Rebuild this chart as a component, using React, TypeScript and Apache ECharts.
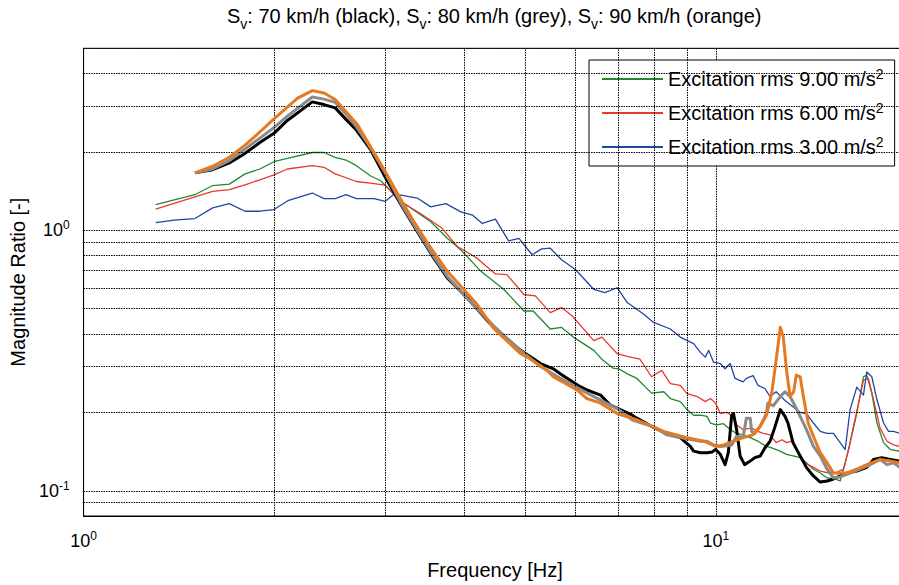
import React, { useEffect, useRef } from 'react';
import * as echarts from 'echarts';

const FONT = '"Liberation Sans", Arial, Helvetica, sans-serif';

// Axis ranges and grid positions
const xRange = [1, 20];
const yRange = [0.08, 5];
const xMinorGrid = [2, 3, 4, 5, 6, 7, 8, 9];
const yMinorGrid = [0.09, 0.2, 0.3, 0.4, 0.5, 0.6, 0.7, 0.8, 0.9, 2, 3, 4];

const titleText = 'S{sub|v}: 70 km/h (black), S{sub|v}: 80 km/h (grey), S{sub|v}: 90 km/h (orange)';
const legendNames = ['Excitation rms 9.00 m/s²', 'Excitation rms 6.00 m/s²', 'Excitation rms 3.00 m/s²'];

// [frequency Hz, magnitude ratio]
const green: [number, number][] = [
  [1.3, 1.256], [1.5, 1.37], [1.6, 1.486], [1.7, 1.505], [1.8, 1.647], [1.9, 1.72], [2.0, 1.834], [2.1, 1.89],
  [2.3, 1.99], [2.4, 1.99], [2.5, 1.906], [2.6, 1.862], [2.7, 1.771], [2.84, 1.62], [2.95, 1.55], [3.17, 1.3],
  [3.33, 1.195], [3.54, 1.079], [3.76, 0.932], [3.95, 0.841], [4.25, 0.696], [4.62, 0.593], [4.97, 0.49],
  [5.14, 0.49], [5.47, 0.418], [5.7, 0.424], [5.95, 0.389], [6.41, 0.346], [6.6, 0.32], [6.87, 0.296],
  [7.02, 0.294], [7.24, 0.281], [7.5, 0.27], [7.91, 0.237], [8.27, 0.24], [8.47, 0.226], [8.78, 0.22],
  [9.0, 0.205], [9.22, 0.195], [9.45, 0.195], [9.68, 0.193], [9.8, 0.182], [10.02, 0.179], [10.28, 0.181],
  [10.53, 0.172], [10.78, 0.166], [11.04, 0.164], [11.33, 0.16], [11.65, 0.155], [12.02, 0.148], [12.25, 0.146],
  [12.64, 0.142], [12.93, 0.138], [13.24, 0.136], [13.59, 0.134], [13.9, 0.128], [14.26, 0.121], [14.62, 0.117],
  [14.99, 0.112], [15.43, 0.111], [15.72, 0.109], [16.01, 0.128], [16.3, 0.153], [16.7, 0.198], [17.11, 0.274],
  [17.32, 0.278], [17.64, 0.237], [17.97, 0.182], [18.41, 0.153], [18.87, 0.144], [19.53, 0.142],
];

const red: [number, number][] = [
  [1.3, 1.205], [1.5, 1.343], [1.6, 1.41], [1.7, 1.432], [1.8, 1.496], [1.9, 1.563], [2.0, 1.633], [2.1, 1.72],
  [2.3, 1.771], [2.4, 1.746], [2.5, 1.647], [2.7, 1.54], [2.88, 1.51], [3.0, 1.49], [3.17, 1.29], [3.41, 1.16],
  [3.69, 1.018], [3.9, 0.867], [4.19, 0.782], [4.48, 0.68], [4.67, 0.676], [4.97, 0.567], [5.18, 0.56],
  [5.47, 0.483], [5.7, 0.505], [5.92, 0.47], [6.41, 0.377], [6.6, 0.389], [6.98, 0.336], [7.24, 0.328],
  [7.58, 0.32], [7.91, 0.274], [8.21, 0.29], [8.47, 0.258], [8.78, 0.254], [9.0, 0.236], [9.34, 0.23],
  [9.62, 0.22], [9.8, 0.226], [9.99, 0.217], [10.16, 0.198], [10.4, 0.2], [10.66, 0.193], [10.78, 0.179],
  [11.04, 0.172], [11.39, 0.174], [11.65, 0.169], [11.88, 0.166], [12.18, 0.164], [12.45, 0.153], [12.72, 0.157],
  [12.93, 0.153], [13.17, 0.155], [13.59, 0.136], [13.82, 0.128], [14.26, 0.123], [14.62, 0.119], [15.08, 0.117],
  [15.43, 0.117], [15.92, 0.121], [16.21, 0.144], [16.5, 0.177], [16.9, 0.23], [17.11, 0.266], [17.42, 0.27],
  [17.75, 0.224], [18.18, 0.174], [18.64, 0.155], [19.1, 0.15], [19.53, 0.148],
];

const blue: [number, number][] = [
  [1.3, 1.07], [1.39, 1.094], [1.5, 1.11], [1.6, 1.22], [1.7, 1.266], [1.8, 1.184], [1.9, 1.184], [2.0, 1.202],
  [2.11, 1.304], [2.3, 1.391], [2.4, 1.323], [2.5, 1.323], [2.6, 1.37], [2.7, 1.323], [2.88, 1.323], [3.0, 1.293],
  [3.1, 1.38], [3.37, 1.33], [3.54, 1.23], [3.74, 1.266], [3.95, 1.178], [4.12, 1.144], [4.27, 1.063],
  [4.48, 1.104], [4.7, 0.911], [4.88, 0.932], [5.12, 0.806], [5.3, 0.849], [5.47, 0.854], [5.7, 0.771],
  [6.0, 0.706], [6.41, 0.593], [6.67, 0.576], [6.98, 0.602], [7.24, 0.528], [7.68, 0.477], [7.97, 0.443],
  [8.47, 0.418], [8.78, 0.389], [8.89, 0.383], [9.22, 0.367], [9.45, 0.34], [9.62, 0.326], [9.74, 0.346],
  [9.91, 0.312], [10.16, 0.308], [10.34, 0.294], [10.53, 0.308], [10.72, 0.27], [11.04, 0.262], [11.17, 0.27],
  [11.45, 0.277], [11.65, 0.254], [11.95, 0.247], [12.18, 0.23], [12.45, 0.24], [12.86, 0.222], [13.24, 0.21],
  [13.59, 0.2], [13.9, 0.198], [14.26, 0.182], [14.62, 0.169], [14.99, 0.166], [15.34, 0.166], [15.72, 0.153],
  [16.01, 0.144], [16.3, 0.205], [16.7, 0.25], [17.11, 0.233], [17.32, 0.286], [17.64, 0.274], [17.97, 0.224],
  [18.41, 0.182], [18.75, 0.169], [19.1, 0.169], [19.53, 0.166],
];

const black: [number, number][] = [
  [1.5, 1.662], [1.6, 1.71], [1.7, 1.814], [1.8, 1.974], [1.9, 2.175], [2.0, 2.358], [2.1, 2.642], [2.3, 3.113],
  [2.4, 3.04], [2.5, 2.953], [2.6, 2.667], [2.7, 2.428], [2.84, 2.05], [3.0, 1.6], [3.17, 1.266], [3.37, 0.989],
  [3.58, 0.782], [3.76, 0.657], [4.04, 0.551], [4.45, 0.424], [4.91, 0.346], [5.28, 0.308], [5.53, 0.294],
  [5.68, 0.281], [6.1, 0.251], [6.25, 0.244], [6.57, 0.233], [6.81, 0.213], [7.32, 0.197], [7.5, 0.19],
  [7.97, 0.175], [8.35, 0.166], [8.78, 0.16], [9.11, 0.148], [9.22, 0.142], [9.45, 0.14], [9.68, 0.14],
  [9.87, 0.141], [9.99, 0.144], [10.16, 0.138], [10.34, 0.126], [10.46, 0.14], [10.59, 0.195], [10.66, 0.198],
  [10.78, 0.172], [10.92, 0.136], [11.1, 0.126], [11.33, 0.13], [11.52, 0.134], [11.75, 0.136], [11.95, 0.146],
  [12.18, 0.155], [12.38, 0.174], [12.64, 0.205], [12.86, 0.193], [13.0, 0.182], [13.24, 0.153], [13.59, 0.136],
  [13.9, 0.123], [14.26, 0.114], [14.62, 0.108], [14.99, 0.109], [15.34, 0.111], [15.72, 0.114], [16.11, 0.117],
  [16.7, 0.119], [17.32, 0.123], [17.75, 0.132], [18.29, 0.134], [18.87, 0.132], [19.53, 0.13],
];

const grey: [number, number][] = [
  [1.5, 1.662], [1.6, 1.72], [1.7, 1.85], [1.8, 2.05], [1.9, 2.26], [2.0, 2.48], [2.1, 2.745], [2.3, 3.25],
  [2.4, 3.19], [2.5, 3.1], [2.6, 2.8], [2.7, 2.5], [2.84, 2.08], [3.0, 1.66], [3.17, 1.28], [3.37, 1.0],
  [3.58, 0.79], [3.76, 0.665], [4.04, 0.548], [4.45, 0.43], [4.91, 0.345], [5.28, 0.3], [5.68, 0.27],
  [6.1, 0.245], [6.57, 0.223], [7.02, 0.205], [7.38, 0.187], [7.97, 0.176], [8.35, 0.164], [8.78, 0.16],
  [9.45, 0.155], [9.68, 0.155], [9.91, 0.15], [10.16, 0.148], [10.4, 0.149], [10.59, 0.15], [10.78, 0.162],
  [11.04, 0.16], [11.17, 0.19], [11.33, 0.19], [11.39, 0.169], [11.52, 0.166], [11.75, 0.177], [12.02, 0.198],
  [12.08, 0.217], [12.32, 0.212], [12.64, 0.23], [12.86, 0.24], [13.1, 0.23], [13.32, 0.213], [13.59, 0.193],
  [13.9, 0.172], [14.26, 0.148], [14.62, 0.136], [14.99, 0.121], [15.34, 0.112], [15.72, 0.113], [16.3, 0.117],
  [16.9, 0.121], [17.53, 0.126], [18.18, 0.132], [18.64, 0.126], [19.1, 0.128], [19.53, 0.123],
];

const orange: [number, number][] = [
  [1.5, 1.662], [1.6, 1.762], [1.7, 1.906], [1.8, 2.123], [1.9, 2.386], [2.0, 2.68], [2.18, 3.22], [2.3, 3.44],
  [2.4, 3.37], [2.5, 3.18], [2.71, 2.55], [3.0, 1.68], [3.17, 1.323], [3.33, 1.079], [3.5, 0.892], [3.76, 0.696],
  [4.19, 0.52], [4.45, 0.42], [4.91, 0.336], [5.03, 0.326], [5.41, 0.29], [5.53, 0.274], [6.03, 0.244],
  [6.25, 0.226], [6.57, 0.217], [6.98, 0.198], [7.5, 0.187], [8.27, 0.169], [9.0, 0.16], [9.57, 0.155],
  [9.99, 0.148], [10.28, 0.15], [10.66, 0.155], [11.04, 0.16], [11.45, 0.164], [11.75, 0.177], [12.02, 0.195],
  [12.25, 0.237], [12.45, 0.317], [12.64, 0.424], [12.78, 0.389], [12.93, 0.29], [13.1, 0.23], [13.27, 0.24],
  [13.4, 0.278], [13.59, 0.274], [13.75, 0.23], [13.99, 0.182], [14.26, 0.162], [14.62, 0.14], [14.99, 0.128],
  [15.34, 0.117], [15.72, 0.117], [16.11, 0.117], [16.7, 0.121], [17.32, 0.126], [18.18, 0.132], [18.87, 0.13],
  [19.53, 0.128],
];

const COLORS = {
  green: '#1f8a2e',
  red: '#e8392f',
  blue: '#1f47a3',
  black: '#000000',
  grey: '#8a8a8a',
  orange: '#e57a22',
};

const GRID_LINE = { color: '#000', width: 1, type: [1.5, 1] as number[] };

function powLabel(v: number): string {
  const e = Math.log10(v);
  const r = Math.round(e);
  if (Math.abs(e - r) < 1e-6) return '10{sup|' + r + '}';
  return '';
}

export default function App() {
  const ref = useRef<HTMLDivElement>(null);

  useEffect(() => {
    if (!ref.current) return;
    const chart = echarts.init(ref.current, undefined, { renderer: 'svg' });

    const line = (name: string, data: [number, number][], color: string, width: number, z: number) => ({
      type: 'line',
      name,
      data,
      symbol: 'none',
      showSymbol: false,
      silent: true,
      z,
      lineStyle: { color, width, join: 'round' },
      itemStyle: { color },
    });

    const option: any = {
      animation: false,
      backgroundColor: '#fff',
      textStyle: { fontFamily: FONT },
      title: {
        text: titleText,
        left: 222,
        top: 0,
        textStyle: {
          fontFamily: FONT,
          fontSize: 20,
          fontWeight: 'normal',
          color: '#000',
          lineHeight: 22,
          rich: {
            sub: {
              fontSize: 14,
              fontFamily: FONT,
              color: '#000',
              lineHeight: 22,
              verticalAlign: 'top',
              padding: [12, 0, 0, 0],
            },
          },
        },
      },
      grid: {
        left: 82.7,
        top: 48.3,
        right: 3.7,
        bottom: 65,
        show: true,
        borderColor: '#000',
        borderWidth: 1,
        backgroundColor: '#fff',
      },
      legend: {
        orient: 'vertical',
        left: 589,
        top: 60,
        data: legendNames,
        selectedMode: false,
        itemWidth: 61,
        itemHeight: 10,
        itemGap: 10,
        padding: [7, 11, 7, 12],
        backgroundColor: '#fff',
        borderColor: '#000',
        borderWidth: 1,
        borderRadius: 0,
        itemStyle: { opacity: 0 },
        formatter: (n: string) => n.replace('²', '{sup|2}'),
        textStyle: {
          fontFamily: FONT,
          fontSize: 20,
          color: '#000',
          lineHeight: 24,
          rich: {
            sup: { fontSize: 14, fontFamily: FONT, color: '#000', verticalAlign: 'top', lineHeight: 22 },
          },
        },
      },
      xAxis: {
        type: 'log',
        logBase: 10,
        min: xRange[0],
        max: xRange[1],
        name: 'Frequency [Hz]',
        nameLocation: 'middle',
        nameGap: 44,
        nameTextStyle: { fontFamily: FONT, fontSize: 20, color: '#000' },
        axisLine: { show: true, lineStyle: { color: '#000', width: 1 } },
        axisTick: { show: false },
        axisLabel: {
          formatter: powLabel,
          margin: 14,
          color: '#000',
          fontFamily: FONT,
          fontSize: 18,
          rich: { sup: { fontSize: 12, fontFamily: FONT, color: '#000', verticalAlign: 'top', padding: [0, 0, 10, 0] } },
        },
        splitLine: { show: true, lineStyle: GRID_LINE },
      },
      yAxis: {
        type: 'log',
        logBase: 10,
        min: yRange[0],
        max: yRange[1],
        name: 'Magnitude Ratio [-]',
        nameLocation: 'middle',
        nameGap: 50,
        nameTextStyle: { fontFamily: FONT, fontSize: 20, color: '#000' },
        axisLine: { show: true, lineStyle: { color: '#000', width: 1 } },
        axisTick: { show: false },
        axisLabel: {
          formatter: powLabel,
          margin: 14,
          color: '#000',
          fontFamily: FONT,
          fontSize: 18,
          rich: { sup: { fontSize: 12, fontFamily: FONT, color: '#000', verticalAlign: 'top', padding: [0, 0, 10, 0] } },
        },
        splitLine: { show: true, lineStyle: GRID_LINE },
      },
      series: [
        {
          type: 'line',
          name: 'grid',
          data: [],
          silent: true,
          z: 1,
          markLine: {
            silent: true,
            symbol: 'none',
            animation: false,
            label: { show: false },
            lineStyle: GRID_LINE,
            data: [
              ...xMinorGrid.map((v) => ({ xAxis: v })),
              ...yMinorGrid.map((v) => ({ yAxis: v })),
            ],
          },
        },
        line(legendNames[0], green, COLORS.green, 1.3, 2),
        line(legendNames[1], red, COLORS.red, 1.3, 2),
        line(legendNames[2], blue, COLORS.blue, 1.3, 2),
        line('black', black, COLORS.black, 3, 3),
        line('grey', grey, COLORS.grey, 3, 4),
        line('orange', orange, COLORS.orange, 3, 5),
      ],
    };

    chart.setOption(option);
    return () => chart.dispose();
  }, []);

  return (
    <div style={{ position: 'absolute', left: 0, top: 0, width: 899, height: 585, overflow: 'hidden', background: '#fff' }}>
      <div ref={ref} style={{ width: 910, height: 585 }} />
    </div>
  );
}
